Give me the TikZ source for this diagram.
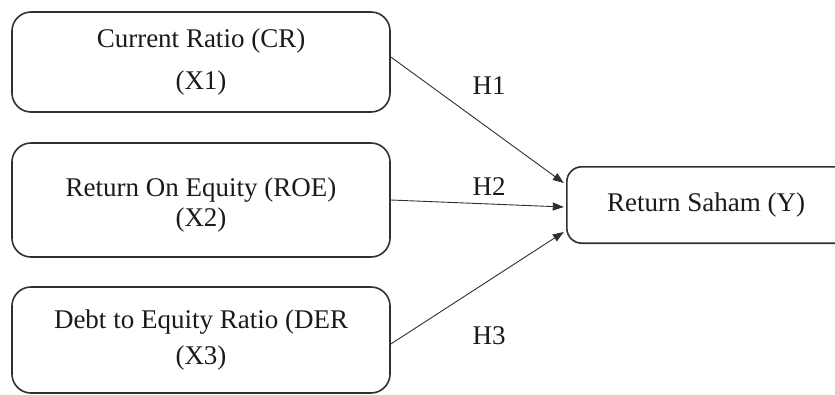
\documentclass[tikz,border=0pt]{standalone}
\usepackage{fontspec}
\setmainfont{Liberation Serif}
\usetikzlibrary{arrows.meta,calc}
\definecolor{ink}{HTML}{1A1A1A}
\definecolor{edge}{HTML}{303030}
\tikzset{
  varbox/.style={draw=edge, line width=1.6pt, rounded corners=19pt, minimum width=378pt, text=ink, align=center, font=\fontsize{27}{30}\selectfont, inner sep=0pt},
  conn/.style={draw=edge, line width=0.9pt, -{Triangle[length=11pt,width=8pt]}},
  hlab/.style={text=ink, font=\fontsize{27}{30}\selectfont, inner sep=0pt}
}
\begin{document}
\begin{tikzpicture}[x=1pt,y=1pt]
\useasboundingbox (0,0) rectangle (835,-394);
\node[varbox, minimum height=100pt] (b1) at (201,-62) {Current Ratio (CR)\\[12pt](X1)};
\node[varbox, minimum height=114pt] (b2) at (201,-200) {\raisebox{-12pt}[0pt][0pt]{\begin{tabular}{@{}c@{}}Return On Equity (ROE)\\[0pt](X2)\end{tabular}}};
\node[varbox, minimum height=106pt] (b3) at (201,-340) {Debt to Equity Ratio (DER\\[6pt](X3)};
\node[text=ink, font=\fontsize{27}{30}\selectfont, minimum width=278pt, minimum height=76pt, inner sep=0pt] (y) at (706,-205) {\raisebox{4pt}{Return Saham (Y)}};
\draw[draw=edge, line width=1.6pt, rounded corners=15pt] ([xshift=60pt]y.north east) -- (y.north west) -- (y.south west) -- ([xshift=60pt]y.south east);
\coordinate (t1) at ($(y.west)+(-3,22)$);
\coordinate (t2) at ($(y.west)+(-3,-2)$);
\coordinate (t3) at ($(y.west)+(-3,-27)$);
\draw[conn] ([yshift=5pt]b1.east) -- (t1);
\draw[conn] (b2.east) -- (t2);
\draw[conn] ([yshift=-4pt]b3.east) -- (t3);
\node[hlab] (h1) at (489,-86) {H1};
\node[hlab] (h2) at (489,-187) {H2};
\node[hlab] (h3) at (489,-336) {H3};
\end{tikzpicture}
\end{document}
